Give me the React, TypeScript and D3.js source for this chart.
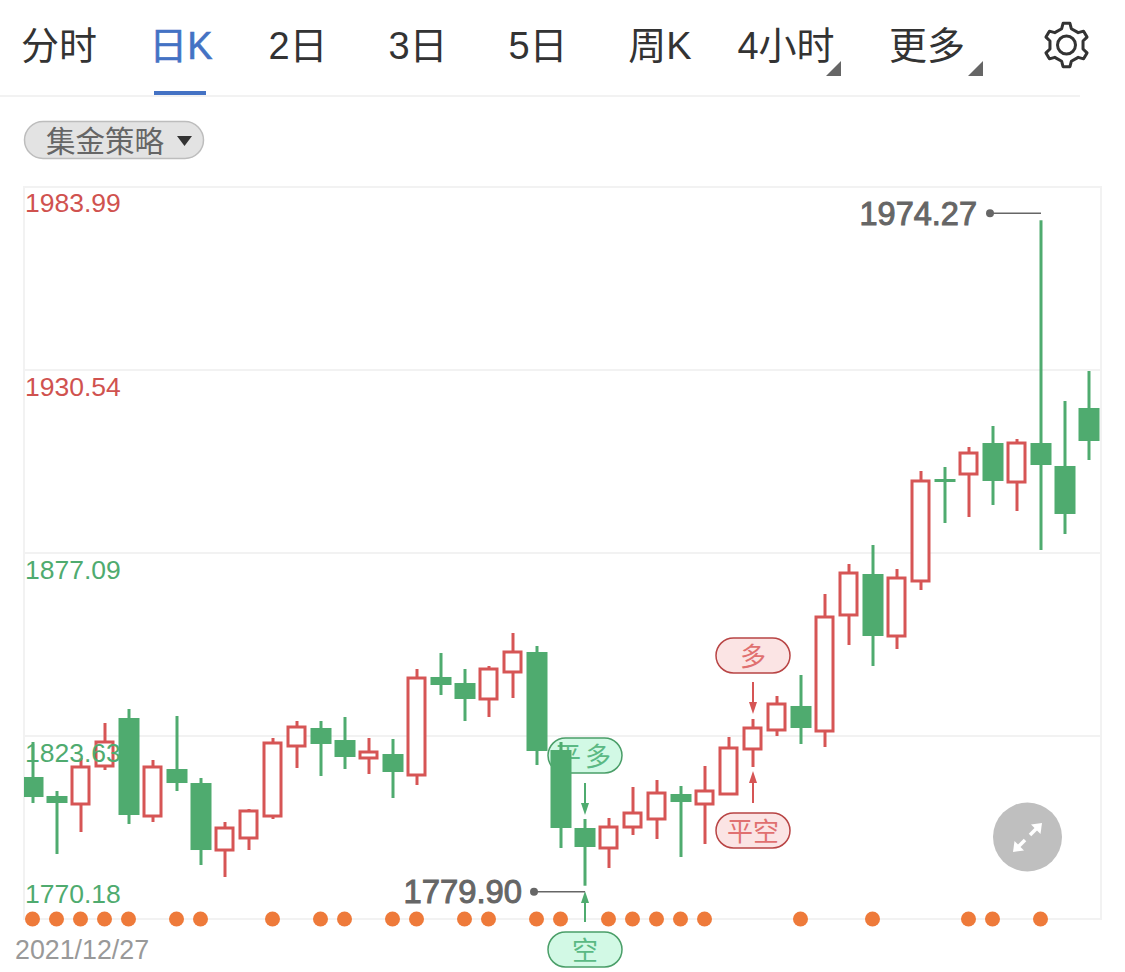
import React from "react";
import * as d3 from "d3";

const opens = [1811.66,1806.11,1803.77,1814.87,1828.89,1800.26,1813.99,1809.9,1790.33,1793.84,1800.26,1820.71,1825.97,1822.46,1817.21,1818.37,1812.24,1840.87,1839.11,1834.44,1842.33,1848.17,1819.54,1796.76,1790.92,1797.05,1799.39,1806.69,1803.77,1806.69,1819.84,1825.39,1832.4,1825.09,1858.98,1870.95,1852.84,1868.91,1898.7,1900.16,1909.21,1897.82,1909.21,1902.5,1919.44];
const closes = [1805.81,1804.06,1814.58,1821.88,1800.56,1814.58,1809.9,1790.33,1796.76,1801.73,1821.59,1826.26,1821.3,1817.5,1818.96,1813.12,1840.57,1838.53,1834.44,1843.2,1848.17,1819.25,1796.76,1791.21,1797.05,1801.14,1806.98,1804.35,1807.57,1820.13,1825.97,1832.98,1825.97,1858.39,1871.24,1852.84,1869.78,1898.12,1897.82,1906.29,1898.12,1909.21,1902.79,1888.48,1909.8];
const highs = [1821.88,1807.57,1817.21,1827.43,1831.52,1816.62,1829.47,1811.36,1798.51,1802.31,1823.05,1828.01,1828.01,1829.18,1823.05,1822.76,1843.2,1847.88,1843.2,1844.08,1853.72,1849.92,1821.88,1799.39,1799.68,1808.74,1810.78,1809.03,1814.87,1823.34,1828.6,1835.32,1841.45,1865.11,1873.87,1879.42,1872.41,1901.04,1902.2,1908.05,1914.18,1910.38,1974.27,1921.48,1930.25];
const lows = [1804.06,1789.17,1795.59,1813.7,1797.93,1798.51,1807.57,1785.95,1782.45,1790.33,1799.39,1814.29,1811.95,1813.99,1812.53,1805.52,1809.32,1835.61,1828.01,1829.18,1834.73,1815.16,1790.92,1779.9,1785.08,1794.72,1793.55,1788.29,1792.09,1806.69,1814.58,1823.63,1821.3,1820.42,1850.21,1844.08,1849.04,1866.28,1885.85,1887.6,1891.11,1889.35,1877.96,1882.63,1904.25];
const dotIndexes = [0,1,2,3,4,6,7,10,12,13,15,16,18,19,21,22,24,25,26,27,28,32,35,39,40,42];
const priceTicks = [1983.99,1930.54,1877.09,1823.63,1770.18];
const tabs = ["分时","日K","2日","3日","5日","周K","4小时","更多"];
const tabCenters = [60,182,299,419,539,661,787,928];
const startDate = "2021/12/27";
const strategyName = "集金策略";
const maxIdx = 42, minIdx = 23;

const RED = "#d65555", GREEN = "#4fab6f", GRID = "#f2f2f2";
const FONT = "'Liberation Sans','Noto Sans CJK SC',sans-serif";

const x = d3.scaleBand<number>().domain(d3.range(opens.length)).range([21,1101]).paddingInner(0.125).paddingOuter(0.0625);
const y = d3.scaleLinear().domain([1770.18,1983.99]).range([919,187]);
const cx = (i:number)=> (x(i) as number)+x.bandwidth()/2;

function gearPath(c:number, cy:number, rOut:number, rIn:number, teeth:number){
  const pts:[number,number][]=[];
  for(let i=0;i<teeth;i++){
    const a=(i/teeth)*Math.PI*2-Math.PI/2;
    const s=Math.PI/teeth;
    [[a-s*0.55,rIn],[a-s*0.3,rOut],[a+s*0.3,rOut],[a+s*0.55,rIn]].forEach(([t,r])=>pts.push([c+r*Math.cos(t),cy+r*Math.sin(t)]));
  }
  return d3.line().curve(d3.curveLinearClosed)(pts) as string;
}

function Tag({cxv,top,label,kind,spacing}:{cxv:number,top:number,label:string,kind:"g"|"r",spacing?:number}){
  const g = kind==="g";
  return <g>
    <rect x={cxv-37} y={top} width={74} height={35} rx={17.5} fill={g?"#d2f9e5":"#fbe4e4"} stroke={g?"#4a9e68":"#b84444"} strokeWidth={1.5}/>
    <text x={cxv} y={top+28} textAnchor="middle" fontSize={26} letterSpacing={spacing||0} fill={g?"#5bb984":"#e07070"}>{label}</text>
  </g>;
}

function Arrow({xv,from,to,color}:{xv:number,from:number,to:number,color:string}){
  const dir = to>from?1:-1;
  return <g>
    <line x1={xv} x2={xv} y1={from} y2={to-dir*8} stroke={color} strokeWidth={2}/>
    <path d={`M${xv-4},${to-dir*12}L${xv+4},${to-dir*12}L${xv},${to}Z`} fill={color}/>
  </g>;
}

export default function App(){
  const w=x.bandwidth();
  return <svg width={1125} height={972} style={{position:"fixed",left:0,top:0,background:"#fff"}} fontFamily={FONT}>
    <defs><clipPath id="plot"><rect x={24} y={187} width={1077} height={732}/></clipPath></defs>
    {tabs.map((t,i)=><text key={t} x={tabCenters[i]-1} y={59} textAnchor="middle" fontSize={38} fill={i===1?"#4472c4":"#333"} stroke={i===1?"#4472c4":"none"} strokeWidth={0.5}>{t}</text>)}
    <rect x={154} y={91} width={52} height={4} fill="#4472c4"/>
    <line x1={0} x2={1080} y1={96} y2={96} stroke={GRID} strokeWidth={2}/>
    <path d="M841,61L841,76L826,76Z" fill="#666"/>
    <path d="M983,61L983,76L968,76Z" fill="#666"/>
    <path d={gearPath(1066.5,45,22,17,6)} fill="none" stroke="#333" strokeWidth={3} strokeLinejoin="round"/>
    <circle cx={1066.5} cy={45} r={9} fill="none" stroke="#333" strokeWidth={3}/>

    <rect x={24.5} y={121.5} width={179} height={37} rx={18.5} fill="#e3e3e3" stroke="#bdbdbd" strokeWidth={1.5}/>
    <text x={46} y={152} fontSize={29.5} fill="#666">{strategyName}</text>
    <path d="M177,136L192,136L184.5,146Z" fill="#333"/>

    <rect x={24} y={187} width={1077} height={732} fill="none" stroke={GRID} strokeWidth={2}/>
    {priceTicks.slice(1,4).map(p=><line key={p} x1={24} x2={1101} y1={y(p)} y2={y(p)} stroke={GRID} strokeWidth={2}/>)}

    <Tag cxv={cx(minIdx)} top={738} label="平多" kind="g" spacing={4}/>
    <Tag cxv={cx(minIdx)} top={932} label="空" kind="g"/>
    <Tag cxv={cx(30)} top={638} label="多" kind="r"/>
    <Tag cxv={cx(30)} top={813} label="平空" kind="r"/>

    <g clipPath="url(#plot)">
      {opens.map((o,i)=>{
        const c=closes[i], up=c>=o, color=up?RED:GREEN;
        const top=y(Math.max(o,c)), bot=y(Math.min(o,c));
        return <g key={i}>
          <line x1={cx(i)} x2={cx(i)} y1={y(highs[i])} y2={top} stroke={color} strokeWidth={3}/>
          <line x1={cx(i)} x2={cx(i)} y1={bot} y2={y(lows[i])} stroke={color} strokeWidth={3}/>
          {up
            ? <rect x={(x(i) as number)+1.5} y={top} width={w-4} height={Math.max(bot-top,1)} fill="#fff" stroke={color} strokeWidth={3}/>
            : <rect x={x(i)} y={top} width={w} height={Math.max(bot-top,2.5)} fill={color}/>}
        </g>;
      })}
    </g>

    {priceTicks.map((p,i)=><text key={p} x={25} y={i===4?903:y(p)+26-(i===0?1:0)} fontSize={26.5} fill={i<2?"#d0524f":"#4fab6f"}>{p.toFixed(2)}</text>)}

    <Arrow xv={cx(minIdx)} from={783} to={815} color={GREEN}/>
    <Arrow xv={cx(minIdx)} from={922} to={891} color={GREEN}/>
    <Arrow xv={cx(30)} from={682} to={714} color={RED}/>
    <Arrow xv={cx(30)} from={803} to={771} color={RED}/>

    <text x={977} y={225} textAnchor="end" fontSize={32.5} fill="#666" stroke="#666" strokeWidth={1}>{highs[maxIdx].toFixed(2)}</text>
    <circle cx={990} cy={y(highs[maxIdx])-7} r={4} fill="#666"/>
    <line x1={990} x2={cx(maxIdx)} y1={y(highs[maxIdx])-7} y2={y(highs[maxIdx])-7} stroke="#666" strokeWidth={1.5}/>
    <text x={522} y={903} textAnchor="end" fontSize={32.8} fill="#666" stroke="#666" strokeWidth={1}>{lows[minIdx].toFixed(2)}</text>
    <circle cx={534} cy={y(lows[minIdx])+6} r={4} fill="#666"/>
    <line x1={534} x2={cx(minIdx)} y1={y(lows[minIdx])+6} y2={y(lows[minIdx])+6} stroke="#666" strokeWidth={1.5}/>

    {dotIndexes.map(i=><circle key={i} cx={cx(i)-0.5} cy={919} r={7.5} fill="#ee7a3a"/>)}
    <text x={15} y={959} fontSize={26.8} fill="#999">{startDate}</text>

    <circle cx={1027.5} cy={837} r={34.5} fill="#bfbfbf"/>
    <g fill="#fff" stroke="#fff">
      <line x1={1030} x2={1038} y1={835} y2={827} strokeWidth={3.5}/>
      <path d="M1042,823L1040.5,834L1031,824.5Z" strokeWidth={0}/>
      <line x1={1025} x2={1017} y1={840} y2={848} strokeWidth={3.5}/>
      <path d="M1013,852L1014.5,841L1024,850.5Z" strokeWidth={0}/>
    </g>
  </svg>;
}
